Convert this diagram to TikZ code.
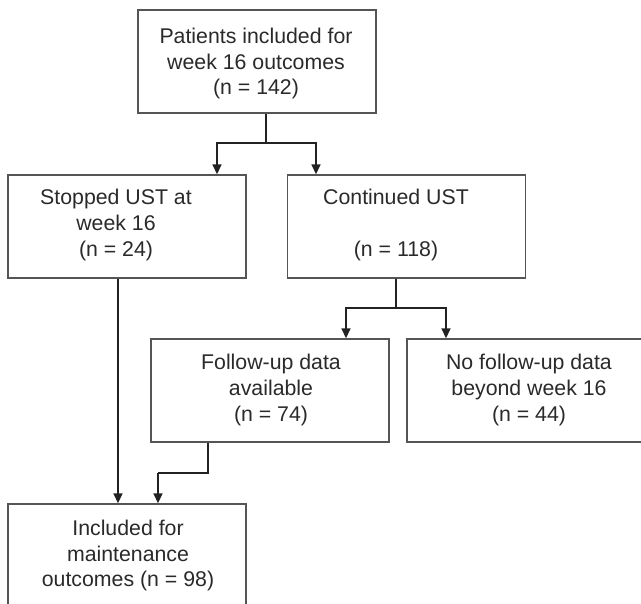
\documentclass[tikz,border=0pt]{standalone}
\usepackage{fontspec}
\setmainfont{Liberation Sans}
\usetikzlibrary{arrows.meta,calc}
\definecolor{boxline}{HTML}{555555}
\definecolor{conline}{HTML}{222222}
\definecolor{txt}{HTML}{2A2A2A}
\begin{document}
\begin{tikzpicture}[x=1pt,y=-1pt,
  box/.style={draw=boxline,line width=1.4pt,minimum width=238pt,minimum height=103pt,inner sep=0pt},
  lbl/.style={text=txt,font=\fontsize{21.3}{25.7}\selectfont,align=center,inner sep=0pt},
  con/.style={draw=conline,line width=1.7pt},
  arr/.style={con,-{Triangle[length=10pt,width=9pt]}}]
\useasboundingbox (0,0) rectangle (641,604);
\clip (0,0) rectangle (641,604);
\fill[white] (0,0) rectangle (641,604);
% boxes
\node[box] (top) at (257,61.5) {};
\node[lbl] (toptxt) at (256,63.5) {Patients included for\\week 16 outcomes\\(n = 142)};
\node[box] (stopped) at (127,226.5) {};
\node[lbl] (stoppedtxt) at (116,225) {Stopped UST at\\week 16\\(n = 24)};
\node[box] (cont) at (406.5,226.5) {};
\node[lbl] (conttxt) at (396,225) {Continued UST\\\mbox{}\\(n = 118)};
\node[box] (follow) at (270,390.5) {};
\node[lbl] (followtxt) at (271,390) {Follow-up data\\available\\(n = 74)};
\node[box] (nofollow) at (526,390.5) {};
\node[lbl] (nofollowtxt) at (529,390) {No follow-up data\\beyond week 16\\(n = 44)};
\node[box] (maint) at (127,555.5) {};
\node[lbl] (mainttxt) at (128,555.5) {Included for\\maintenance\\outcomes (n = 98)};
% helper coordinates
\coordinate (j1) at (266,143);
\coordinate (xa) at (217,0);
\coordinate (xb) at (316,0);
\coordinate (j2) at (396,308);
\coordinate (xc) at (346,0);
\coordinate (xd) at (446,0);
\coordinate (xs) at (118,0);
\coordinate (xf) at (208,0);
\coordinate (j3) at (158,473);
% connectors
\draw[con] (top.south -| j1) -- (j1);
\draw[arr] (j1) -| (xa |- stopped.north);
\draw[arr] (j1) -| (xb |- cont.north);
\draw[con] (cont.south -| j2) -- (j2);
\draw[arr] (j2) -| (xc |- follow.north);
\draw[arr] (j2) -| (xd |- nofollow.north);
\draw[arr] (xs |- stopped.south) -- (xs |- maint.north);
\draw[con] (xf |- follow.south) |- (j3);
\draw[arr] (j3) -- (j3 |- maint.north);
\end{tikzpicture}
\end{document}
